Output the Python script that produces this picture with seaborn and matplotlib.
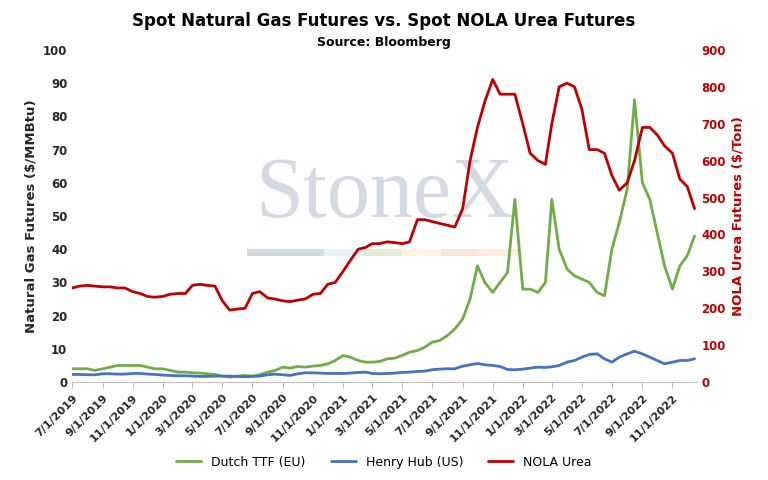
import matplotlib
matplotlib.use("Agg")
import matplotlib.pyplot as plt
import matplotlib.dates as mdates
import seaborn as sns
import pandas as pd

sns.set_style("white")
plt.rcParams['font.family'] = ['DejaVu Sans']
plt.rcParams['text.color'] = 'black'

dates = [d for m in pd.date_range("2019-07-01", "2022-12-01", freq="MS") for d in (m, m + pd.Timedelta(days=15))]

urea = [255,260,262,260,258,258,255,255,245,240,232,230,
        232,238,240,240,262,265,262,260,220,195,198,200,240,245,228,225,220,218,222,225,238,240,265,270,
        300,330,360,365,375,375,380,378,375,380,440,440,435,430,425,420,470,600,690,760,820,780,780,780,
        700,620,600,590,700,800,810,800,740,630,630,620,560,520,540,600,690,690,670,640,620,550,530,470]
ttf = [4,4,4,3.5,4,4.5,5,5,5,5,4.5,4,
       4,3.5,3,3,2.8,2.7,2.5,2.3,1.8,1.5,1.8,2,1.8,2.2,3,3.5,4.5,4.2,4.7,4.5,4.8,5,5.5,6.5,
       8,7.5,6.5,6,6,6.2,7,7.2,8,9,9.5,10.5,12,12.5,14,16,19,25,35,30,27,30,33,55,
       28,28,27,30,55,40,34,32,31,30,27,26,40,48,58,85,60,55,45,35,28,35,38,44]
hh = [2.3,2.3,2.2,2.2,2.5,2.5,2.4,2.4,2.6,2.6,2.4,2.3,
      2.1,2.0,1.9,1.9,1.8,1.7,1.7,1.8,1.8,1.8,1.7,1.6,1.7,1.8,2.2,2.4,2.2,2.0,2.5,2.8,2.8,2.7,2.6,2.6,
      2.6,2.7,2.9,3.0,2.6,2.5,2.6,2.7,2.9,3.0,3.2,3.3,3.7,3.9,4.0,4.0,4.8,5.2,5.6,5.2,5.0,4.7,3.8,3.7,
      3.9,4.2,4.5,4.4,4.6,5.0,6.0,6.5,7.5,8.3,8.5,7.0,6.0,7.5,8.5,9.3,8.5,7.5,6.5,5.5,6.0,6.5,6.5,7.0]

df = pd.DataFrame({"date": dates, "ttf": ttf, "hh": hh, "urea": urea})

fig, ax = plt.subplots(figsize=(7.68, 4.8), dpi=100)
ax2 = ax.twinx()
sns.lineplot(data=df, x="date", y="ttf", ax=ax, color="#70AD47", lw=2, label="Dutch TTF (EU)", legend=False)
sns.lineplot(data=df, x="date", y="hh", ax=ax, color="#4472C4", lw=2, label="Henry Hub (US)", legend=False)
sns.lineplot(data=df, x="date", y="urea", ax=ax2, color="#C00000", lw=2, label="NOLA Urea", legend=False)

ax.set_ylim(0, 100); ax.set_yticks(range(0, 101, 10))
ax2.set_ylim(0, 900); ax2.set_yticks(range(0, 901, 100))
ax.set_xlim(pd.Timestamp("2019-07-01"), pd.Timestamp("2022-12-20"))
ax.xaxis.set_major_locator(mdates.MonthLocator(bymonth=[1,3,5,7,9,11]))
ax.xaxis.set_major_formatter(mdates.DateFormatter("%-m/%-d/%Y"))
for lab in ax.get_xticklabels():
    lab.set_rotation(45); lab.set_ha("right"); lab.set_rotation_mode("anchor")
    lab.set_fontweight("bold"); lab.set_fontsize(8)
for lab in ax.get_yticklabels():
    lab.set_fontweight("bold"); lab.set_fontsize(8.5)
for lab in ax2.get_yticklabels():
    lab.set_fontweight("bold"); lab.set_fontsize(8.5); lab.set_color("#C00000")
ax.set_xlabel("")
ax.set_ylabel("Natural Gas Futures ($/MMBtu)", fontweight="bold", fontsize=9.5)
ax2.set_ylabel("NOLA Urea Futures ($/Ton)", fontweight="bold", fontsize=9.5, color="#C00000")
for a in (ax, ax2):
    for s in a.spines.values():
        s.set_visible(False)
ax.spines["bottom"].set_visible(True); ax.spines["bottom"].set_color("#BFBFBF")
ax.tick_params(axis="x", length=4, color="#BFBFBF", bottom=True)
ax.tick_params(axis="y", length=0)
ax2.tick_params(axis="y", length=0)

ax.text(0.5, 0.56, "StoneX", transform=ax.transAxes, ha="center", va="center",
        fontsize=62, family="Liberation Serif", color="#8497B0", alpha=0.35, zorder=0)
cols = ["#8497B0", "#8497B0", "#BDD7EE", "#A9D08E", "#FFE699", "#F4B084", "#F8CBAD"]
for i, c in enumerate(cols):
    ax.axhspan(38, 40, xmin=0.28 + i * 0.062, xmax=0.28 + (i + 1) * 0.062, color=c, alpha=0.35, lw=0, zorder=0)

fig.suptitle("Spot Natural Gas Futures vs. Spot NOLA Urea Futures", fontweight="bold", fontsize=12, y=0.975)
fig.text(0.5, 0.905, "Source: Bloomberg", ha="center", fontweight="bold", fontsize=9)

h1, l1 = ax.get_legend_handles_labels()
h2, l2 = ax2.get_legend_handles_labels()
fig.legend(h1 + h2, l1 + l2, loc="lower center", ncol=3, frameon=False,
           prop={"size": 9}, bbox_to_anchor=(0.5, 0.0))
fig.subplots_adjust(left=0.094, right=0.907, top=0.896, bottom=0.204)
fig.savefig("out.png", dpi=100)
